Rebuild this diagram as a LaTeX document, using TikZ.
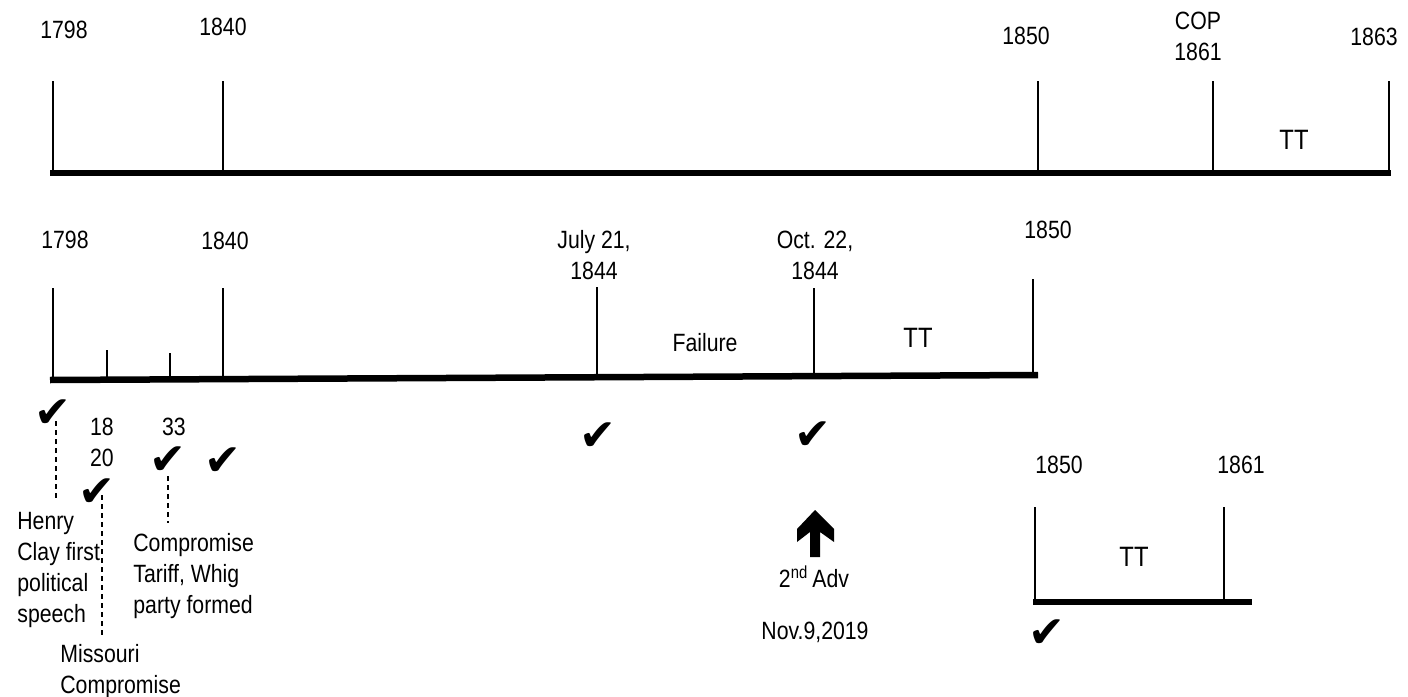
\documentclass[tikz,border=0pt]{standalone}
\usepackage{fontspec}
\setmainfont{Liberation Sans}[FakeStretch=0.85]
\newfontfamily\checkfont{DejaVu Sans}
\tikzset{
  axis/.style={line width=3.25pt},
  tick/.style={line width=0.75pt},
  lead/.style={line width=0.75pt, dash pattern=on 2.5pt off 2pt},
  lbl/.style={font=\fontsize{12.5}{15.5}\selectfont, inner sep=0pt, align=center},
  note/.style={lbl, align=left, anchor=north west},
  span/.style={font=\fontsize{14}{16}\selectfont, inner sep=0pt},
  chk/.style={font=\checkfont\fontsize{22}{22}\selectfont, inner sep=0pt},
}
\begin{document}
\begin{tikzpicture}[x=0.5pt,y=-0.5pt]
  \useasboundingbox (0,0) rectangle (1408,696);
  % top line
  \node[lbl] (a1798) at (64,30) {1798};
  \node[lbl] (a1840) at (223,27) {1840};
  \node[lbl] (a1850) at (1026,36) {1850};
  \node[lbl] (a1861) at (1198,36) {COP\\1861};
  \node[lbl] (a1863) at (1374,37) {1863};
  \node[span] (att) at (1294,140) {TT};
  \coordinate (aL) at (50,173);
  \coordinate (aR) at (1391,173);
  \draw[axis] (aL) -- (aR);
  \foreach \x in {53,223,1038,1213,1389} {
    \coordinate (at\x) at (\x,81);
    \coordinate (ab\x) at (\x,173);
    \draw[tick] (at\x) -- (ab\x);
  }
  % middle line
  \node[lbl] (b1798) at (65,240) {1798};
  \node[lbl] (b1840) at (225,241) {1840};
  \node[lbl] (bjuly) at (594,255) {July 21,\\1844};
  \node[lbl] (boct) at (815,255) {Oct. 22,\\1844};
  \node[lbl] (b1850) at (1048,230) {1850};
  \node[lbl] (bfail) at (705,343) {Failure};
  \node[span] (btt) at (918,338) {TT};
  \coordinate (bL) at (50,380);
  \coordinate (bR) at (1038,375);
  \draw[axis] (bL) -- (bR);
  \foreach \x/\t/\b in {53/288/380,107/350/379.7,170/353/379.4,223/288/379.1,597/287/377.2,814/288/376.1,1033/279/375} {
    \coordinate (bt\x) at (\x,\t);
    \coordinate (bb\x) at (\x,\b);
    \draw[tick] (bt\x) -- (bb\x);
  }
  \node[lbl] (b1820) at (102,442) {18\\20};
  \node[lbl] (b1833) at (174,427) {33};
  \node[chk] (c1) at (53,414) {✔};
  \node[chk] (c2) at (97,493) {✔};
  \node[chk] (c3) at (168,461) {✔};
  \node[chk] (c4) at (223,462) {✔};
  \node[chk] (c5) at (598,437) {✔};
  \node[chk] (c6) at (813,436) {✔};
  \node[note] (henry) at (17,512) {Henry\\Clay first\\political\\speech};
  \node[note] (missouri) at (60,644) {Missouri\\Compromise};
  \node[note] (tariff) at (133,533) {Compromise\\Tariff, Whig\\party formed};
  \coordinate (d1a) at (56,421);
  \coordinate (d1b) at (56,498);
  \coordinate (d2a) at (102,495);
  \coordinate (d2b) at (102,637);
  \coordinate (d3a) at (168,476);
  \coordinate (d3b) at (168,523);
  \draw[lead] (d1a) -- (d1b);
  \draw[lead] (d2a) -- (d2b);
  \draw[lead] (d3a) -- (d3b);
  \fill (810,557) -- (810,532) -- (797,542) -- (797,529) -- (815,510)
        -- (834,529) -- (834,542) -- (820,532) -- (820,557) -- cycle;
  \node[lbl] (adv) at (814,577) {2\textsuperscript{nd}\,Adv};
  \node[lbl] (nov) at (815,632) {Nov.9,2019};
  % bottom right line
  \node[lbl] (c1850) at (1059,465) {1850};
  \node[lbl] (c1861) at (1241,465) {1861};
  \node[span] (ctt) at (1134,557) {TT};
  \coordinate (cL) at (1033,602);
  \coordinate (cR) at (1252,602);
  \draw[axis] (cL) -- (cR);
  \foreach \x in {1035,1224} {
    \coordinate (ct\x) at (\x,507);
    \coordinate (cb\x) at (\x,600);
    \draw[tick] (ct\x) -- (cb\x);
  }
  \node[chk] (c7) at (1047,634) {✔};
\end{tikzpicture}
\end{document}
